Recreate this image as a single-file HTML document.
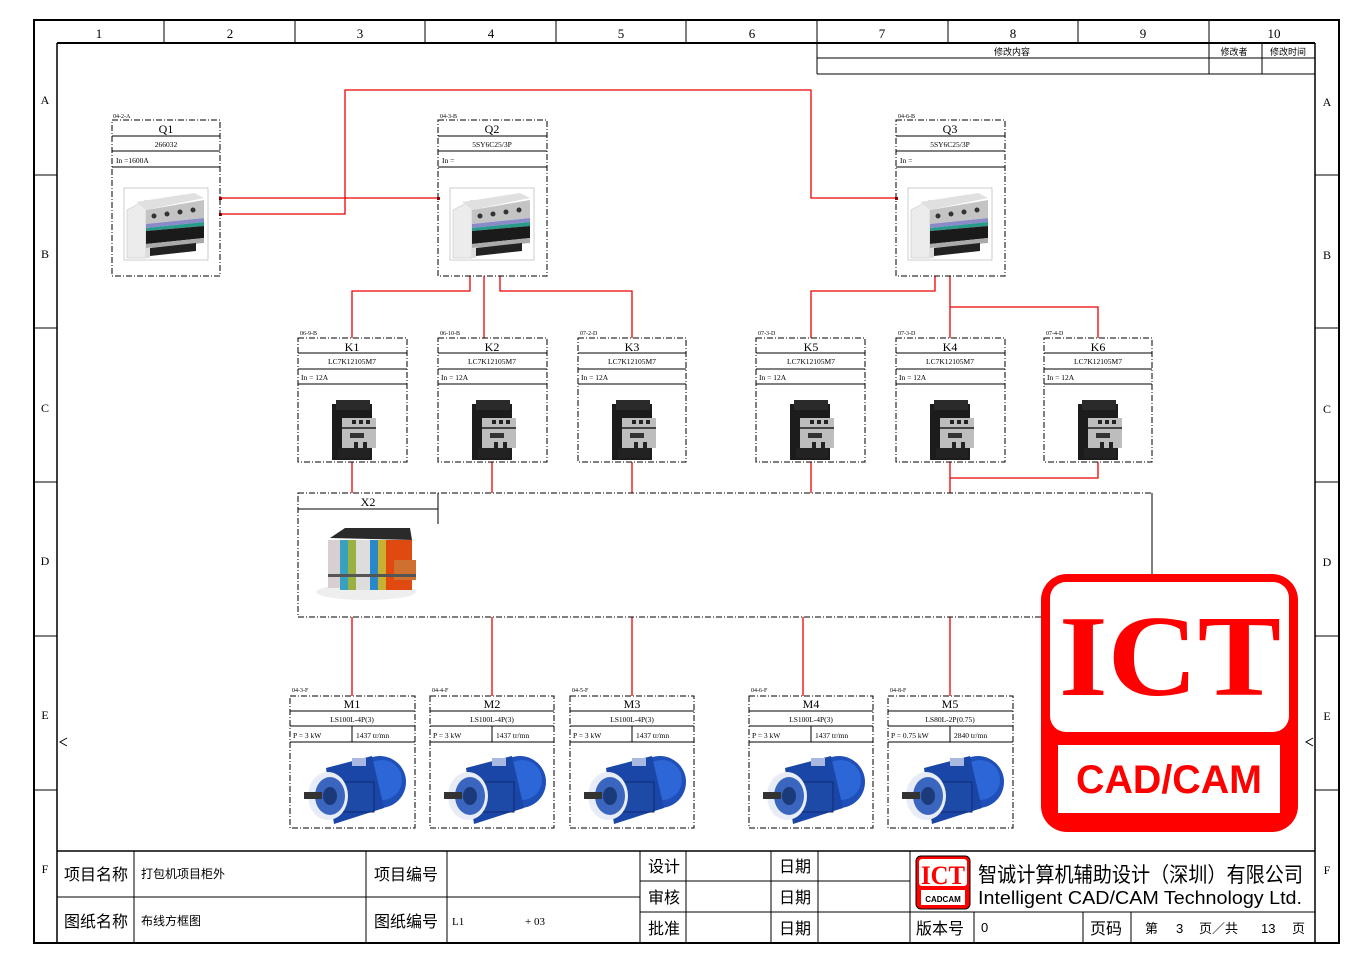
<!DOCTYPE html>
<html><head><meta charset="utf-8"><style>
html,body{margin:0;padding:0;background:#fff;}
svg{display:block;}
.s{font-family:"Liberation Serif","Noto Serif CJK SC",serif;}
.a{font-family:"Liberation Sans","Noto Sans CJK SC",sans-serif;}
.cj{font-family:"Liberation Sans","WenQuanYi Zen Hei","Noto Sans CJK SC",sans-serif;}
</style></head><body>
<svg width="1370" height="968" viewBox="0 0 1370 968" xmlns="http://www.w3.org/2000/svg">
<defs>
<symbol id="brk" overflow="visible">
 <rect x="0" y="0" width="84" height="72" fill="none" stroke="#ccc" stroke-width="1"/>
 <polygon points="3,22 22,12 22,70 3,70" fill="#ececec" stroke="#bbb" stroke-width="0.5"/>
 <polygon points="12,14 70,5 80,10 22,22" fill="#e0e0e0"/>
 <polygon points="22,22 80,12 80,30 22,36" fill="#c4c4c4"/>
 <circle cx="30" cy="28" r="2.5" fill="#333"/><circle cx="43" cy="26" r="2.5" fill="#333"/><circle cx="56" cy="24" r="2.5" fill="#333"/><circle cx="69" cy="22" r="2.5" fill="#333"/>
 <polygon points="22,36 80,30 80,34 22,40" fill="#8a8ac8"/>
 <polygon points="22,40 80,34 80,38 22,43" fill="#2a9a8a"/>
 <polygon points="22,43 80,38 80,50 22,56" fill="#1a1a1a"/>
 <polygon points="22,56 80,50 80,55 22,60" fill="#aaa"/>
 <polygon points="26,60 72,55 72,63 26,68" fill="#222"/>
 <rect x="22" y="60" width="4" height="10" fill="#ddd"/>
</symbol>
<symbol id="ctr" overflow="visible">
 <rect x="2" y="4" width="40" height="56" fill="#1c1c1c"/>
 <rect x="6" y="0" width="34" height="10" fill="#2a2a2a"/>
 <rect x="12" y="18" width="34" height="30" fill="#bdbdbd"/>
 <rect x="22" y="20" width="4" height="4" fill="#222"/><rect x="29" y="20" width="4" height="4" fill="#222"/><rect x="36" y="20" width="4" height="4" fill="#222"/>
 <rect x="12" y="27" width="34" height="2" fill="#444"/>
 <rect x="20" y="33" width="14" height="5" fill="#333"/>
 <rect x="24" y="42" width="4" height="6" fill="#222"/><rect x="33" y="42" width="4" height="6" fill="#222"/>
 <rect x="8" y="48" width="32" height="10" fill="#222"/>
</symbol>
<symbol id="mot" overflow="visible">
 <circle cx="80" cy="32" r="26" fill="#1f4fb8"/>
 <circle cx="82" cy="30" r="20" fill="#2d66d6"/>
 <polygon points="26,18 72,6 84,58 34,74" fill="#1a46a8"/>
 <rect x="40" y="32" width="34" height="30" fill="#1d4aa6" stroke="#0d2a70" stroke-width="1"/>
 <ellipse cx="28" cy="46" rx="20" ry="24" fill="#e8ecf6"/>
 <ellipse cx="30" cy="46" rx="15" ry="19" fill="#3a66c0"/>
 <ellipse cx="30" cy="46" rx="7" ry="9" fill="#1b3a7a"/>
 <rect x="4" y="42" width="18" height="7" fill="#333"/>
 <rect x="52" y="8" width="14" height="8" fill="#a8b8e0"/>
</symbol>
</defs>

<g fill="none" stroke="#000">
 <rect x="34" y="20" width="1305" height="923" stroke-width="2"/>
 <line x1="57" y1="43" x2="1315" y2="43" stroke-width="2"/>
 <line x1="57" y1="43" x2="57" y2="943" stroke-width="1.5"/>
 <line x1="1315" y1="43" x2="1315" y2="943" stroke-width="1.5"/>
 <g stroke-width="1">
 <line x1="164" y1="20" x2="164" y2="43"/><line x1="295" y1="20" x2="295" y2="43"/><line x1="425" y1="20" x2="425" y2="43"/><line x1="556" y1="20" x2="556" y2="43"/><line x1="686" y1="20" x2="686" y2="43"/><line x1="817" y1="20" x2="817" y2="43"/><line x1="948" y1="20" x2="948" y2="43"/><line x1="1078" y1="20" x2="1078" y2="43"/><line x1="1209" y1="20" x2="1209" y2="43"/>
 <line x1="34" y1="175" x2="57" y2="175"/><line x1="34" y1="328" x2="57" y2="328"/><line x1="34" y1="482" x2="57" y2="482"/><line x1="34" y1="636" x2="57" y2="636"/><line x1="34" y1="790" x2="57" y2="790"/>
 <line x1="1315" y1="175" x2="1339" y2="175"/><line x1="1315" y1="328" x2="1339" y2="328"/><line x1="1315" y1="482" x2="1339" y2="482"/><line x1="1315" y1="636" x2="1339" y2="636"/><line x1="1315" y1="790" x2="1339" y2="790"/>
 <line x1="817" y1="43" x2="817" y2="74"/><line x1="817" y1="58" x2="1315" y2="58"/><line x1="817" y1="74" x2="1315" y2="74"/>
 <line x1="1209" y1="43" x2="1209" y2="74"/><line x1="1262" y1="43" x2="1262" y2="74"/>
 <polyline points="67,738 60,742 67,746"/><polyline points="1313,738 1306,742 1313,746"/>
 </g>
</g>
<g class="s" font-size="13" fill="#000" text-anchor="middle">
 <text x="99" y="38">1</text><text x="230" y="38">2</text><text x="360" y="38">3</text><text x="491" y="38">4</text><text x="621" y="38">5</text><text x="752" y="38">6</text><text x="882" y="38">7</text><text x="1013" y="38">8</text><text x="1143" y="38">9</text><text x="1274" y="38">10</text>
 <text x="45" y="104" font-size="12">A</text><text x="45" y="258" font-size="12">B</text><text x="45" y="412" font-size="12">C</text><text x="45" y="565" font-size="12">D</text><text x="45" y="719" font-size="12">E</text><text x="45" y="873" font-size="12">F</text>
 <text x="1327" y="106" font-size="12">A</text><text x="1327" y="259" font-size="12">B</text><text x="1327" y="413" font-size="12">C</text><text x="1327" y="566" font-size="12">D</text><text x="1327" y="720" font-size="12">E</text><text x="1327" y="874" font-size="12">F</text>
</g>
<g class="cj" font-size="9" text-anchor="middle"><text x="1012" y="55">修改内容</text><text x="1234" y="55">修改者</text><text x="1288" y="55">修改时间</text></g>

<g fill="none" stroke="#e00" stroke-width="1.3">
 <line x1="220" y1="198" x2="438" y2="198"/>
 <polyline points="220,214 345,214 345,90 811,90 811,198 896,198"/>
 <polyline points="470,276 470,291 352,291 352,338"/>
 <line x1="484" y1="276" x2="484" y2="338"/>
 <polyline points="500,276 500,291 632,291 632,338"/>
 <polyline points="935,276 935,291 811,291 811,338"/>
 <line x1="950" y1="276" x2="950" y2="338"/>
 <polyline points="950,307 1098,307 1098,338"/>
 <line x1="352" y1="462" x2="352" y2="493"/><line x1="492" y1="462" x2="492" y2="493"/><line x1="632" y1="462" x2="632" y2="493"/><line x1="811" y1="462" x2="811" y2="493"/><line x1="950" y1="462" x2="950" y2="493"/>
 <polyline points="1098,462 1098,478 950,478"/>
 <line x1="352" y1="617" x2="352" y2="696"/><line x1="492" y1="617" x2="492" y2="696"/><line x1="632" y1="617" x2="632" y2="696"/><line x1="803" y1="617" x2="803" y2="696"/><line x1="950" y1="617" x2="950" y2="696"/>
</g>
<g fill="#a00"><rect x="219" y="197" width="3" height="3"/><rect x="219" y="213" width="3" height="3"/><rect x="437" y="197" width="3" height="3"/><rect x="895" y="197" width="3" height="3"/></g>

<g fill="none" stroke="#000" stroke-width="1" stroke-dasharray="6,2,1,2">
 <rect x="112" y="120" width="108" height="156"/><rect x="438" y="120" width="109" height="156"/><rect x="896" y="120" width="109" height="156"/>
 <rect x="298" y="338" width="109" height="124"/><rect x="438" y="338" width="109" height="124"/><rect x="578" y="338" width="108" height="124"/>
 <rect x="756" y="338" width="109" height="124"/><rect x="896" y="338" width="109" height="124"/><rect x="1044" y="338" width="108" height="124"/>
 <rect x="298" y="493" width="854" height="124"/>
 <rect x="290" y="696" width="125" height="132"/><rect x="430" y="696" width="124" height="132"/><rect x="570" y="696" width="124" height="132"/><rect x="749" y="696" width="124" height="132"/><rect x="888" y="696" width="125" height="132"/>
</g>
<g fill="none" stroke="#000" stroke-width="1">
 <path d="M112,136H220M112,151H220M112,167H220M438,136H547M438,151H547M438,167H547M896,136H1005M896,151H1005M896,167H1005"/>
 <path d="M298,353H407M298,369H407M298,384H407M438,353H547M438,369H547M438,384H547M578,353H686M578,369H686M578,384H686M756,353H865M756,369H865M756,384H865M896,353H1005M896,369H1005M896,384H1005M1044,353H1152M1044,369H1152M1044,384H1152"/>
 <path d="M298,509H438M438,493V524M1152,493V617"/>
 <path d="M290,711H415M290,726H415M290,742H415M352,726V742M430,711H554M430,726H554M430,742H554M492,726V742M570,711H694M570,726H694M570,742H694M632,726V742M749,711H873M749,726H873M749,742H873M811,726V742M888,711H1013M888,726H1013M888,742H1013M950,726V742"/>
</g>

<g class="s" fill="#000">
 <g font-size="6"><text x="113" y="118">04-2-A</text><text x="440" y="118">04-3-B</text><text x="898" y="118">04-6-B</text>
 <text x="300" y="335">06-9-B</text><text x="440" y="335">06-10-B</text><text x="580" y="335">07-2-D</text><text x="758" y="335">07-3-D</text><text x="898" y="335">07-3-D</text><text x="1046" y="335">07-4-D</text>
 <text x="292" y="692">04-3-F</text><text x="432" y="692">04-4-F</text><text x="572" y="692">04-5-F</text><text x="751" y="692">04-6-F</text><text x="890" y="692">04-8-F</text></g>
 <g font-size="12" text-anchor="middle"><text x="166" y="133">Q1</text><text x="492" y="133">Q2</text><text x="950" y="133">Q3</text>
 <text x="352" y="351">K1</text><text x="492" y="351">K2</text><text x="632" y="351">K3</text><text x="811" y="351">K5</text><text x="950" y="351">K4</text><text x="1098" y="351">K6</text>
 <text x="368" y="506">X2</text>
 <text x="352" y="708">M1</text><text x="492" y="708">M2</text><text x="632" y="708">M3</text><text x="811" y="708">M4</text><text x="950" y="708">M5</text></g>
 <g font-size="7.5" text-anchor="middle"><text x="166" y="147">266032</text><text x="492" y="147">5SY6C25/3P</text><text x="950" y="147">5SY6C25/3P</text>
 <text x="352" y="364">LC7K12105M7</text><text x="492" y="364">LC7K12105M7</text><text x="632" y="364">LC7K12105M7</text><text x="811" y="364">LC7K12105M7</text><text x="950" y="364">LC7K12105M7</text><text x="1098" y="364">LC7K12105M7</text>
 <text x="352" y="722">LS100L-4P(3)</text><text x="492" y="722">LS100L-4P(3)</text><text x="632" y="722">LS100L-4P(3)</text><text x="811" y="722">LS100L-4P(3)</text><text x="950" y="722">LS80L-2P(0.75)</text></g>
 <g font-size="7.5"><text x="116" y="163">In =1600A</text><text x="442" y="163">In =</text><text x="900" y="163">In =</text>
 <text x="301" y="380">In = 12A</text><text x="441" y="380">In = 12A</text><text x="581" y="380">In = 12A</text><text x="759" y="380">In = 12A</text><text x="899" y="380">In = 12A</text><text x="1047" y="380">In = 12A</text>
 <text x="293" y="738">P =  3 kW</text><text x="356" y="738">1437 tr/mn</text><text x="433" y="738">P =  3 kW</text><text x="496" y="738">1437 tr/mn</text><text x="573" y="738">P =  3 kW</text><text x="636" y="738">1437 tr/mn</text><text x="752" y="738">P =  3 kW</text><text x="815" y="738">1437 tr/mn</text><text x="891" y="738">P =  0.75 kW</text><text x="954" y="738">2840 tr/mn</text></g>
</g>

<use href="#brk" x="124" y="188"/><use href="#brk" x="450" y="188"/><use href="#brk" x="908" y="188"/>
<use href="#ctr" x="330" y="400"/><use href="#ctr" x="470" y="400"/><use href="#ctr" x="610" y="400"/><use href="#ctr" x="788" y="400"/><use href="#ctr" x="928" y="400"/><use href="#ctr" x="1076" y="400"/>
<use href="#mot" x="300" y="750"/><use href="#mot" x="440" y="750"/><use href="#mot" x="580" y="750"/><use href="#mot" x="759" y="750"/><use href="#mot" x="898" y="750"/>
<g>
 <ellipse cx="366" cy="592" rx="50" ry="8" fill="#eee"/>
 <polygon points="330,538 345,528 410,528 412,540" fill="#2a2a2a"/>
 <rect x="328" y="540" width="12" height="48" fill="#d8d0d0"/>
 <rect x="340" y="540" width="8" height="50" fill="#3aa0c0"/>
 <rect x="348" y="540" width="8" height="50" fill="#9ab040"/>
 <rect x="356" y="540" width="14" height="50" fill="#ddd"/>
 <rect x="370" y="540" width="8" height="50" fill="#2a88c8"/>
 <rect x="378" y="540" width="8" height="50" fill="#c8b030"/>
 <rect x="386" y="540" width="26" height="50" fill="#e04a10"/>
 <rect x="394" y="560" width="22" height="20" fill="#d07030"/>
 <rect x="328" y="574" width="88" height="3" fill="#555"/>
</g>

<g>
 <rect x="1041" y="574" width="257" height="258" rx="26" fill="#f00"/>
 <rect x="1050" y="582" width="239" height="150" rx="16" fill="#fff"/>
 <rect x="1058" y="745" width="222" height="68" fill="#fff"/>
 <text x="1170" y="695" text-anchor="middle" font-family="Liberation Serif,serif" font-weight="bold" font-size="116" fill="#f00" textLength="222" lengthAdjust="spacingAndGlyphs">ICT</text>
 <text x="1169" y="793" text-anchor="middle" font-family="Liberation Sans,sans-serif" font-weight="bold" font-size="40" fill="#f00" textLength="186" lengthAdjust="spacingAndGlyphs">CAD/CAM</text>
</g>

<g fill="none" stroke="#000" stroke-width="1">
 <line x1="57" y1="851" x2="1315" y2="851" stroke-width="1.5"/>
 <line x1="57" y1="897" x2="640" y2="897"/>
 <line x1="134" y1="851" x2="134" y2="943"/><line x1="366" y1="851" x2="366" y2="943"/><line x1="447" y1="851" x2="447" y2="943"/>
 <line x1="640" y1="851" x2="640" y2="943"/><line x1="686" y1="851" x2="686" y2="943"/><line x1="771" y1="851" x2="771" y2="943"/><line x1="818" y1="851" x2="818" y2="943"/><line x1="910" y1="851" x2="910" y2="943"/>
 <line x1="640" y1="881" x2="910" y2="881"/><line x1="640" y1="912" x2="1315" y2="912"/>
 <line x1="974" y1="912" x2="974" y2="943"/><line x1="1083" y1="912" x2="1083" y2="943"/><line x1="1131" y1="912" x2="1131" y2="943"/>
</g>
<g class="cj" fill="#000">
 <g font-size="16"><text x="64" y="880">项目名称</text><text x="64" y="927">图纸名称</text><text x="374" y="880">项目编号</text><text x="374" y="927">图纸编号</text>
 <text x="648" y="872">设计</text><text x="648" y="903">审核</text><text x="648" y="934">批准</text>
 <text x="779" y="872">日期</text><text x="779" y="903">日期</text><text x="779" y="934">日期</text>
 <text x="916" y="934">版本号</text><text x="1090" y="934">页码</text></g>
 <g font-size="12"><text x="141" y="878">打包机项目柜外</text><text x="141" y="925">布线方框图</text></g>
 <text x="452" y="925" font-size="11" class="s">L1</text><text x="525" y="925" font-size="11" class="s">+ 03</text>
 <text x="981" y="932" font-size="13">0</text>
 <g font-size="13"><text x="1145" y="933">第</text><text x="1176" y="933">3</text><text x="1199" y="933">页／共</text><text x="1261" y="933">13</text><text x="1292" y="933">页</text></g>
 <text x="978" y="882" font-size="21" textLength="325" lengthAdjust="spacingAndGlyphs">智诚计算机辅助设计（深圳）有限公司</text>
 <text x="978" y="904" font-size="18" class="a" textLength="324" lengthAdjust="spacingAndGlyphs">Intelligent CAD/CAM Technology Ltd.</text>
</g>
<g>
 <rect x="916" y="856" width="54" height="53" rx="5" fill="#f00" stroke="#000" stroke-width="1"/>
 <rect x="919" y="859" width="48" height="27" rx="3" fill="#fff"/>
 <rect x="921" y="890" width="44" height="15" fill="#fff"/>
 <text x="943" y="884" text-anchor="middle" font-family="Liberation Serif,serif" font-weight="bold" font-size="26" fill="#f00" textLength="44" lengthAdjust="spacingAndGlyphs">ICT</text>
 <text x="943" y="902" text-anchor="middle" font-family="Liberation Sans,sans-serif" font-weight="bold" font-size="8" fill="#000">CADCAM</text>
</g>
</svg>
</body></html>
